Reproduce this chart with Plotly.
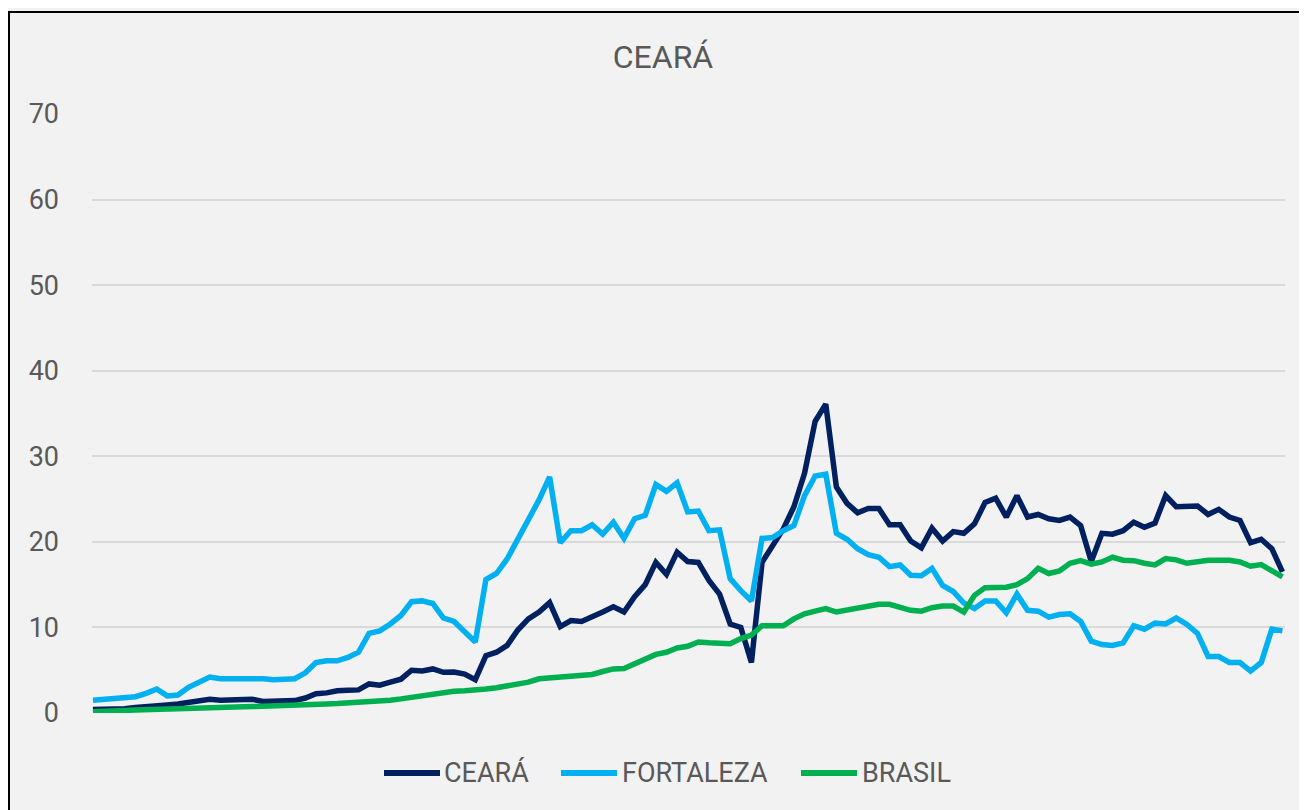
import plotly.graph_objects as go

# Values (113 periods)
ceara = [0.4, 0.4, 0.45, 0.5, 0.65, 0.8, 0.85, 0.95, 1.05, 1.25,
         1.45, 1.6, 1.5, 1.5, 1.45, 1.6, 1.35, 1.35, 1.35, 1.45,
         1.75, 2.25, 2.35, 2.6, 2.65, 2.7, 3.4, 3.25, 3.6, 3.95,
         5.0, 4.9, 5.15, 4.75, 4.8, 4.55, 3.9, 6.7, 7.1, 7.9,
         9.7, 11.0, 11.8, 12.9, 10.1, 10.8, 10.7, 11.2, 11.8, 12.4,
         11.8, 13.6, 15.0, 17.6, 16.2, 18.8, 17.7, 17.6, 15.5, 13.9,
         10.4, 10.0, 5.9, 17.6, 19.7, 21.5, 24.1, 28.0, 34.1, 36.1,
         26.4, 24.5, 23.4, 23.9, 23.9, 22.0, 22.0, 20.1, 19.3, 21.6,
         20.1, 21.2, 21.0, 22.1, 24.6, 25.1, 22.9, 25.4, 22.9, 23.2,
         22.7, 22.5, 22.9, 21.9, 17.7, 21.0, 20.9, 21.3, 22.3, 21.7,
         22.2, 25.4, 24.1, 24.1, 24.2, 23.2, 23.8, 22.9, 22.5, 19.9,
         20.3, 19.2, 16.5]

fortaleza = [1.5, 1.6, 1.65, 1.7, 1.9, 2.3, 2.8, 2.0, 2.1, 3.0,
             3.6, 4.2, 4.0, 4.0, 4.05, 4.1, 4.0, 3.9, 3.9, 4.0,
             4.7, 5.9, 6.1, 6.1, 6.5, 7.1, 9.3, 9.6, 10.4, 11.4,
             13.0, 13.1, 12.8, 11.1, 10.7, 9.6, 8.3, 15.6, 16.3, 18.0,
             20.3, 22.7, 24.9, 27.6, 19.9, 21.3, 21.3, 22.0, 20.9, 22.3,
             20.4, 22.7, 23.1, 26.7, 25.9, 26.9, 23.5, 23.6, 21.3, 21.4,
             15.7, 14.3, 13.1, 20.4, 20.5, 21.3, 21.9, 25.4, 27.7, 27.9,
             21.0, 20.3, 19.2, 18.5, 18.2, 17.1, 17.3, 16.1, 16.05, 16.9,
             14.9, 14.2, 12.85, 12.2, 13.1, 13.1, 11.7, 13.9, 12.0, 11.9,
             11.2, 11.5, 11.6, 10.7, 8.4, 8.0, 7.9, 8.2, 10.2, 9.8,
             10.5, 10.4, 11.1, 10.35, 9.3, 6.6, 6.6, 5.9, 5.9, 4.9,
             5.9, 9.8, 9.6]

brasil = [0.15, 0.15, 0.2, 0.3, 0.35, 0.4, 0.45, 0.5, 0.55, 0.6,
          0.62, 0.65, 0.7, 0.72, 0.75, 0.75, 0.78, 0.8, 0.82, 0.85,
          0.9, 1.0, 1.05, 1.1, 1.15, 1.2, 1.25, 1.35, 1.5, 1.65,
          1.85, 2.0, 2.2, 2.4, 2.55, 2.6, 2.65, 2.8, 2.95, 3.15,
          3.35, 3.6, 4.0, 4.1, 4.1, 4.2, 4.3, 4.5, 4.85, 5.15,
          5.2, 5.7, 6.2, 6.85, 7.1, 7.6, 7.8, 8.3, 8.2, 8.1,
          8.1, 8.7, 9.1, 10.2, 10.2, 10.2, 11.0, 11.6, 11.9, 12.2,
          11.8, 12.0, 12.2, 12.5, 12.7, 12.7, 12.4, 12.0, 11.9, 12.3,
          12.5, 12.5, 11.8, 13.75, 14.65, 14.7, 14.7, 15.0, 15.7, 16.9,
          16.3, 16.6, 17.5, 17.8, 17.4, 17.65, 18.2, 17.85, 17.8, 17.5,
          17.3, 18.05, 17.9, 17.5, 17.7, 17.85, 17.85, 17.85, 17.65, 17.15,
          17.35, 16.7, 15.9]

series_names = ["CEARÁ", "FORTALEZA", "BRASIL"]
y_ticks = [0, 10, 20, 30, 40, 50, 60, 70]

colors = ["#002060", "#00B0F0", "#00B050"]
FONT = "Roboto"
GREY = "#595959"

fig = go.Figure()
for name, vals, col in zip(series_names, [ceara, fortaleza, brasil], colors):
    fig.add_trace(go.Scatter(
        y=vals, mode="lines", name=name, showlegend=False,
        line=dict(color=col, width=5.5),
    ))

# The page body has an 8px margin, so the figure starts at screen (8, 8).
OFF = 8
W, H = 1307 - OFF, 810 - OFF
# Target screen-space plot area: x 92..1285, y 114..713
L, R, T, B = 92 - OFF, 1307 - 1285, 114 - OFF, 810 - 713
pw, ph = W - L - R, H - T - B


def px_x(sx):
    return (sx - OFF - L) / pw


def px_y(sy):
    return (H - B - (sy - OFF)) / ph


# Legend (Excel-style: long line sample followed by the name)
legend_sample_x = [(384, 440), (561, 617), (801, 857)]
legend_text_x = [443, 621, 861]
legend_y = 773

shapes = [dict(type="rect", xref="paper", yref="paper",
               x0=px_x(9), x1=px_x(1306), y0=px_y(814), y1=px_y(12),
               line=dict(color="black", width=2), fillcolor="rgba(0,0,0,0)",
               layer="below")]
annotations = []
for name, col, (sx0, sx1), tx in zip(series_names, colors, legend_sample_x,
                                     legend_text_x):
    shapes.append(dict(type="line", xref="paper", yref="paper",
                       x0=px_x(sx0), x1=px_x(sx1),
                       y0=px_y(legend_y), y1=px_y(legend_y),
                       line=dict(color=col, width=6)))
    annotations.append(dict(text=name, xref="paper", yref="paper",
                            x=px_x(tx), y=px_y(legend_y),
                            xanchor="left", yanchor="middle",
                            showarrow=False, borderpad=0,
                            font=dict(family=FONT, size=27, color=GREY)))

fig.update_layout(
    width=W, height=H,
    margin=dict(l=L, r=R, t=T, b=B),
    paper_bgcolor="#F2F2F2",
    plot_bgcolor="#F2F2F2",
    font=dict(family=FONT, color=GREY, size=26),
    title=dict(text="CEARÁ", x=(663 - OFF) / W, xanchor="center",
               y=1 - (57 - OFF) / H, yanchor="middle",
               font=dict(family=FONT, size=32, color=GREY)),
    showlegend=False,
    xaxis=dict(range=[-0.09, 112.24], showticklabels=False, showgrid=False,
               zeroline=False, showline=False, ticks=""),
    yaxis=dict(range=[0, 70], tickvals=y_ticks, showgrid=True,
               gridcolor="#D9D9D9", gridwidth=1.5, zeroline=False,
               showline=False, ticks="", ticklabelstandoff=32,
               tickfont=dict(family=FONT, size=27, color=GREY)),
    shapes=shapes,
    annotations=annotations,
)

fig.write_html("out.html")
